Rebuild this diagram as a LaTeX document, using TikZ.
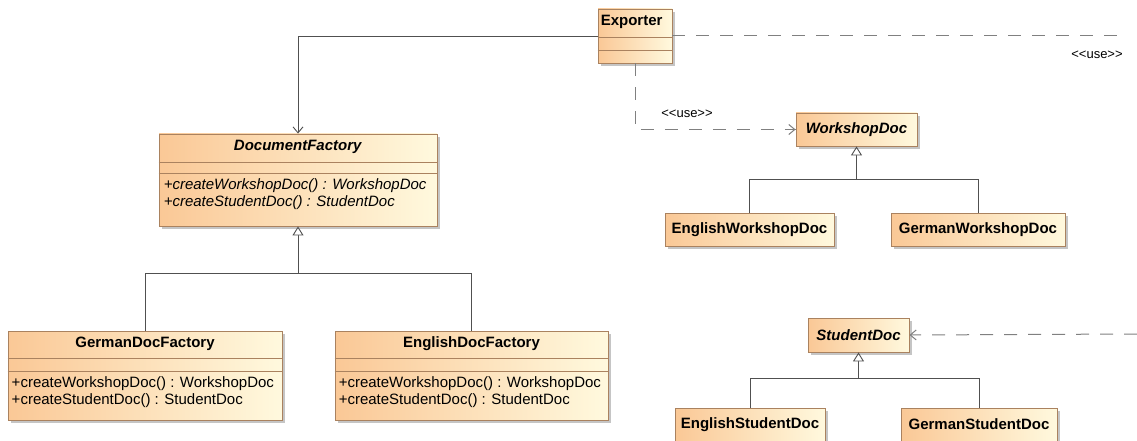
\documentclass[tikz,border=0pt]{standalone}
\usepackage{fontspec}
\setmainfont{Liberation Sans}
\usetikzlibrary{positioning,arrows.meta,shadows}

\definecolor{umlleft}{RGB}{250,200,150}
\definecolor{umlright}{RGB}{255,249,222}
\definecolor{umlborder}{RGB}{170,130,95}
\definecolor{umlline}{RGB}{80,80,80}
\definecolor{umldash}{RGB}{128,128,128}

\tikzset{
	classbox/.style={draw=umlborder, line width=0.9pt, left color=umlleft, right color=umlright,
		inner sep=0pt, minimum height=33pt, font=\fontsize{15}{17}\selectfont\bfseries,
		drop shadow={shadow xshift=3pt, shadow yshift=-3pt, fill=black!45, opacity=0.5}},
	classline/.style={draw=umlborder, line width=0.9pt},
	umltitle/.style={inner sep=0pt, font=\fontsize{15}{17}\selectfont\bfseries},
	umlmethods/.style={inner sep=0pt, align=left, font=\fontsize{15}{17}\selectfont},
	uselabel/.style={inner sep=0pt, font=\fontsize{13}{14}\selectfont},
	assoc/.style={draw=umlline, line width=0.9pt, -{Straight Barb[length=6pt,width=10pt]}},
	usedep/.style={draw=umldash, line width=1pt, dash pattern=on 13pt off 11pt},
	inherit/.style={draw=umlline, line width=0.9pt, -{Triangle[open,length=9pt,width=11pt,fill=white]}},
	genline/.style={draw=umlline, line width=0.9pt}
}

\begin{document}
\begin{tikzpicture}[x=1pt,y=-1pt]
	\useasboundingbox (0,0) rectangle (1137,441);

	% exporter
	\node [classbox, minimum width=74pt, minimum height=54pt] (exporter) at (635,36) {};
	\node [umltitle, below right=6pt and 3pt of exporter.north west] {Exporter};
	\draw [classline] ([yshift=-29pt]exporter.north west) -- ([yshift=-29pt]exporter.north east);
	\draw [classline] ([yshift=-42pt]exporter.north west) -- ([yshift=-42pt]exporter.north east);

	% abstract factory
	\node [classbox, minimum width=278pt, minimum height=92pt] (factory) at (298,180) {};
	\node [umltitle, below=6pt of factory.north] {\textit{DocumentFactory}};
	\draw [classline] ([yshift=-29pt]factory.north west) -- ([yshift=-29pt]factory.north east);
	\draw [classline] ([yshift=-40pt]factory.north west) -- ([yshift=-40pt]factory.north east);
	\node [umlmethods, below right=45pt and 5pt of factory.north west]
		{\textit{+createWorkshopDoc() : WorkshopDoc}\\\textit{+createStudentDoc() : StudentDoc}};

	% concrete factories
	\node [classbox, minimum width=274pt, minimum height=89pt] (germanfac) at (145,375.5) {};
	\node [umltitle, below=6pt of germanfac.north] {GermanDocFactory};
	\draw [classline] ([yshift=-28pt]germanfac.north west) -- ([yshift=-28pt]germanfac.north east);
	\draw [classline] ([yshift=-41pt]germanfac.north west) -- ([yshift=-41pt]germanfac.north east);
	\node [umlmethods, below right=46pt and 4pt of germanfac.north west]
		{+createWorkshopDoc() : WorkshopDoc\\+createStudentDoc() : StudentDoc};

	\node [classbox, minimum width=273pt, minimum height=89pt] (englishfac) at (471.5,375.5) {};
	\node [umltitle, below=6pt of englishfac.north] {EnglishDocFactory};
	\draw [classline] ([yshift=-28pt]englishfac.north west) -- ([yshift=-28pt]englishfac.north east);
	\draw [classline] ([yshift=-41pt]englishfac.north west) -- ([yshift=-41pt]englishfac.north east);
	\node [umlmethods, below right=46pt and 4pt of englishfac.north west]
		{+createWorkshopDoc() : WorkshopDoc\\+createStudentDoc() : StudentDoc};

	% products
	\node [classbox, minimum width=121pt] (workshop) at (856.5,129.5) {\textit{WorkshopDoc}};
	\node [classbox, minimum width=169pt] (engworkshop) at (749.5,229.5) {EnglishWorkshopDoc};
	\node [classbox, minimum width=174pt] (gerworkshop) at (978,229.5) {GermanWorkshopDoc};

	\node [classbox, minimum width=101pt, minimum height=34pt] (student) at (858.5,335) {\textit{StudentDoc}};
	\node [classbox, minimum width=150pt] (engstudent) at (750,424.5) {EnglishStudentDoc};
	\node [classbox, minimum width=156pt] (gerstudent) at (979,424.5) {GermanStudentDoc};

	% generalisations
	\coordinate (facjoin) at (factory.south |- 0,273);
	\draw [genline] (germanfac.north) |- (facjoin);
	\draw [genline] (englishfac.north) |- (facjoin);
	\draw [inherit] (facjoin) -- (factory.south);

	\coordinate (wsjoin) at (workshop.south |- 0,179);
	\draw [genline] (engworkshop.north) |- (wsjoin);
	\draw [genline] (gerworkshop.north) |- (wsjoin);
	\draw [inherit] (wsjoin) -- (workshop.south);

	\coordinate (stjoin) at (student.south |- 0,378);
	\draw [genline] (engstudent.north) |- (stjoin);
	\draw [genline] (gerstudent.north) |- (stjoin);
	\draw [inherit] (stjoin) -- (student.south);

	% exporter uses
	\draw [assoc] (exporter.west) -| (factory.north);

	\draw [usedep] (exporter.south) |- (workshop.west);
	\draw [umldash, line width=1pt, -{Straight Barb[length=6pt,width=10pt]}]
		([xshift=-9pt]workshop.west) -- (workshop.west);
	\node [uselabel] (uselow) at (687,114) {<\kern0pt<use>\kern0pt>};

	\coordinate (useout) at (1127,36);
	\draw [usedep] (exporter.east) -- (useout);
	\node [uselabel] (usehigh) at (1097,55) {<\kern0pt<use>\kern0pt>};

	\coordinate (studentin) at (1137,334);
	\draw [usedep, -{Straight Barb[length=6pt,width=10pt]}] (studentin) -- (student.east);
\end{tikzpicture}
\end{document}
